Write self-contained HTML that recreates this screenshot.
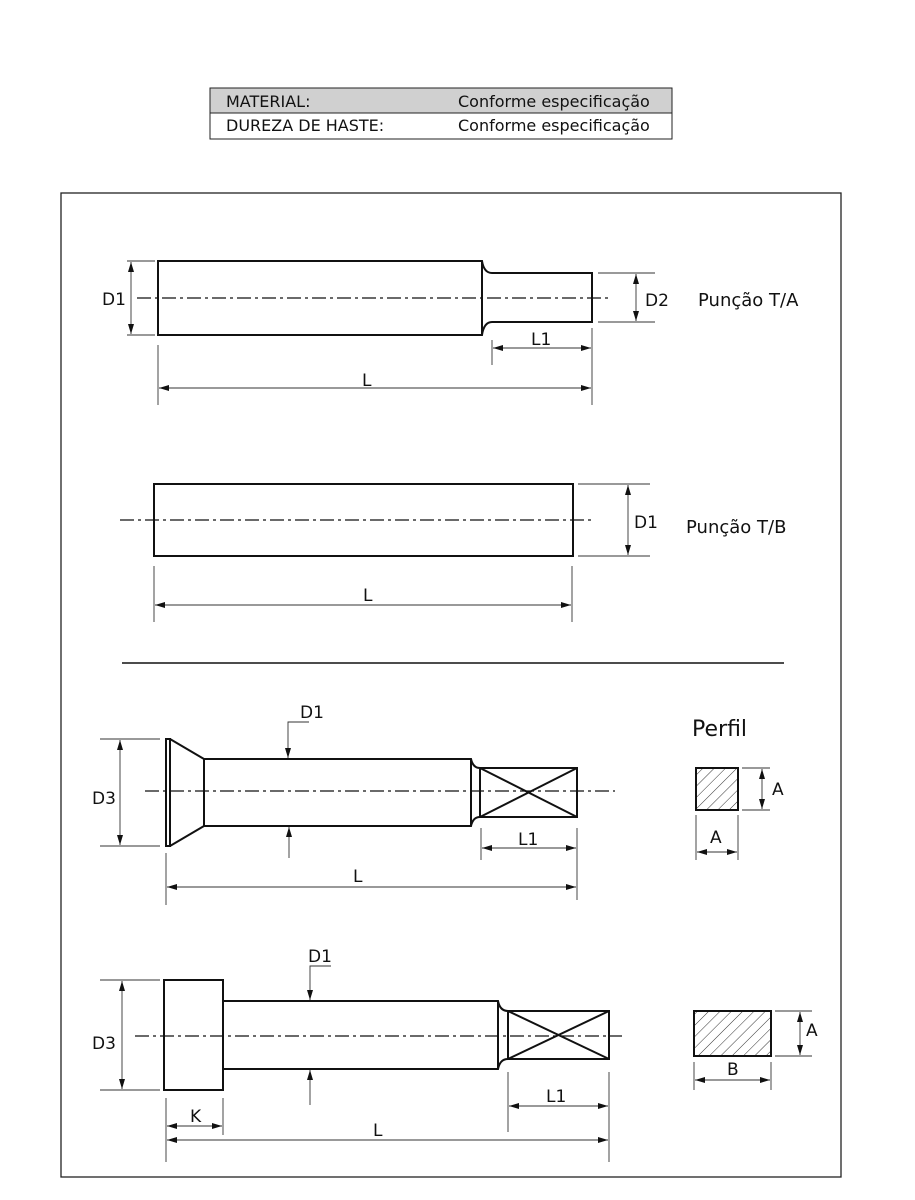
<!DOCTYPE html>
<html><head><meta charset="utf-8"><style>
html,body{margin:0;padding:0;background:#fff}
svg{display:block}
text{font-family:"DejaVu Sans","Liberation Sans",sans-serif;fill:#111}
</style></head><body>
<svg width="915" height="1200" viewBox="0 0 915 1200" xmlns="http://www.w3.org/2000/svg">
<defs>
<marker id="a" viewBox="0 0 10 10" refX="10" refY="5" markerWidth="10" markerHeight="10" orient="auto-start-reverse" markerUnits="userSpaceOnUse"><path d="M0,2 L10,5 L0,8 z" fill="#111"/></marker>
<pattern id="h" width="8" height="8" patternUnits="userSpaceOnUse" patternTransform="rotate(45)"><line x1="0" y1="0" x2="0" y2="8" stroke="#333" stroke-width="1"/></pattern>
</defs>
<rect x="210" y="88" width="462" height="25" fill="#d0d0d0"/>
<rect x="210" y="88" width="462" height="51" fill="none" stroke="#222" stroke-width="1"/>
<line x1="210" y1="113" x2="672" y2="113" stroke="#222"/>
<g font-size="16">
<text x="226" y="107">MATERIAL:</text><text x="458" y="107">Conforme especificação</text>
<text x="226" y="131">DUREZA DE HASTE:</text><text x="458" y="131">Conforme especificação</text>
</g>
<rect x="61" y="193" width="780" height="984" fill="none" stroke="#222" stroke-width="1.3"/>

<g fill="none" stroke="#111">
<path d="M158,261 H482 Q484,273 492,273 H592 V322 H492 Q484,322 482,335 H158 Z M482,261 V335" stroke-width="2"/>
<line x1="137" y1="298" x2="612" y2="298" stroke-width="1.2" stroke-dasharray="14,4,3,4"/>
<g stroke-width="0.9" stroke="#333">
<line x1="127" y1="261" x2="155" y2="261"/><line x1="127" y1="335" x2="155" y2="335"/>
<line x1="131" y1="262" x2="131" y2="334" marker-start="url(#a)" marker-end="url(#a)"/>
<line x1="598" y1="273" x2="655" y2="273"/><line x1="598" y1="322" x2="655" y2="322"/>
<line x1="636" y1="274" x2="636" y2="321" marker-start="url(#a)" marker-end="url(#a)"/>
<line x1="492" y1="340" x2="492" y2="365"/><line x1="592" y1="328" x2="592" y2="405"/>
<line x1="493" y1="348" x2="591" y2="348" marker-start="url(#a)" marker-end="url(#a)"/>
<line x1="158" y1="345" x2="158" y2="405"/>
<line x1="159" y1="388" x2="591" y2="388" marker-start="url(#a)" marker-end="url(#a)"/>
</g>
<rect x="154" y="484" width="419" height="72" stroke-width="2"/>
<line x1="120" y1="520" x2="592" y2="520" stroke-width="1.2" stroke-dasharray="14,4,3,4"/>
<g stroke-width="0.9" stroke="#333">
<line x1="578" y1="484" x2="650" y2="484"/><line x1="578" y1="556" x2="650" y2="556"/>
<line x1="628" y1="485" x2="628" y2="555" marker-start="url(#a)" marker-end="url(#a)"/>
<line x1="154" y1="566" x2="154" y2="622"/><line x1="572" y1="566" x2="572" y2="622"/>
<line x1="155" y1="605" x2="571" y2="605" marker-start="url(#a)" marker-end="url(#a)"/>
</g>
<line x1="122" y1="663" x2="784" y2="663" stroke-width="1.5"/>
<path d="M166,739 H170 V846 H166 Z M170,739 L204,759 M170,846 L204,826" stroke-width="2"/>
<path d="M204,759 H471 Q473,768 480,768 H577 V817 H480 Q473,817 471,826 H204 Z M471,759 V826 M480,768 V817 M480,768 L577,817 M480,817 L577,768" stroke-width="2"/>
<line x1="145" y1="791" x2="615" y2="791" stroke-width="1.2" stroke-dasharray="14,4,3,4"/>
<g stroke-width="0.9" stroke="#333">
<line x1="100" y1="739" x2="160" y2="739"/><line x1="100" y1="846" x2="160" y2="846"/>
<line x1="120" y1="740" x2="120" y2="845" marker-start="url(#a)" marker-end="url(#a)"/>
<polyline points="309,722 288,722 288,758" marker-end="url(#a)"/>
<line x1="289" y1="858" x2="289" y2="827" marker-end="url(#a)"/>
<line x1="481" y1="828" x2="481" y2="860"/><line x1="577" y1="828" x2="577" y2="900"/>
<line x1="482" y1="848" x2="576" y2="848" marker-start="url(#a)" marker-end="url(#a)"/>
<line x1="166" y1="853" x2="166" y2="905"/>
<line x1="167" y1="887" x2="576" y2="887" marker-start="url(#a)" marker-end="url(#a)"/>
<line x1="742" y1="768" x2="770" y2="768"/><line x1="742" y1="810" x2="770" y2="810"/>
<line x1="762" y1="769" x2="762" y2="809" marker-start="url(#a)" marker-end="url(#a)"/>
<line x1="696" y1="815" x2="696" y2="860"/><line x1="738" y1="815" x2="738" y2="860"/>
<line x1="697" y1="852" x2="737" y2="852" marker-start="url(#a)" marker-end="url(#a)"/>
</g>
<rect x="696" y="768" width="42" height="42" fill="url(#h)" stroke-width="2"/>
<rect x="164" y="980" width="59" height="110" stroke-width="2"/>
<path d="M223,1001 H498 Q500,1011 508,1011 H609 V1059 H508 Q500,1059 498,1069 H223 M498,1001 V1069 M508,1011 V1059 M508,1011 L609,1059 M508,1059 L609,1011" stroke-width="2"/>
<line x1="135" y1="1036" x2="622" y2="1036" stroke-width="1.2" stroke-dasharray="14,4,3,4"/>
<g stroke-width="0.9" stroke="#333">
<line x1="100" y1="980" x2="160" y2="980"/><line x1="100" y1="1090" x2="160" y2="1090"/>
<line x1="122" y1="981" x2="122" y2="1089" marker-start="url(#a)" marker-end="url(#a)"/>
<polyline points="331,966 310,966 310,1000" marker-end="url(#a)"/>
<line x1="310" y1="1105" x2="310" y2="1070" marker-end="url(#a)"/>
<line x1="508" y1="1072" x2="508" y2="1132"/><line x1="609" y1="1072" x2="609" y2="1162"/>
<line x1="509" y1="1106" x2="608" y2="1106" marker-start="url(#a)" marker-end="url(#a)"/>
<line x1="223" y1="1098" x2="223" y2="1135"/><line x1="166" y1="1098" x2="166" y2="1162"/>
<line x1="167" y1="1126" x2="222" y2="1126" marker-start="url(#a)" marker-end="url(#a)"/>
<line x1="167" y1="1140" x2="608" y2="1140" marker-start="url(#a)" marker-end="url(#a)"/>
<line x1="775" y1="1011" x2="812" y2="1011"/><line x1="775" y1="1056" x2="812" y2="1056"/>
<line x1="800" y1="1012" x2="800" y2="1055" marker-start="url(#a)" marker-end="url(#a)"/>
<line x1="694" y1="1062" x2="694" y2="1090"/><line x1="771" y1="1062" x2="771" y2="1090"/>
<line x1="695" y1="1080" x2="770" y2="1080" marker-start="url(#a)" marker-end="url(#a)"/>
</g>
<rect x="694" y="1011" width="77" height="45" fill="url(#h)" stroke-width="2"/>
</g>

<g font-size="17">
<text x="102" y="305">D1</text>
<text x="645" y="306">D2</text>
<text x="698" y="306" font-size="18">Punção T/A</text>
<text x="531" y="345">L1</text>
<text x="362" y="386">L</text>
<text x="634" y="528">D1</text>
<text x="686" y="533" font-size="18">Punção T/B</text>
<text x="363" y="601">L</text>
<text x="300" y="718">D1</text>
<text x="92" y="804">D3</text>
<text x="518" y="845">L1</text>
<text x="353" y="882">L</text>
<text x="692" y="736" font-size="22">Perfil</text>
<text x="772" y="795">A</text>
<text x="710" y="843">A</text>
<text x="308" y="962">D1</text>
<text x="92" y="1049">D3</text>
<text x="546" y="1102">L1</text>
<text x="190" y="1122">K</text>
<text x="373" y="1136">L</text>
<text x="806" y="1036">A</text>
<text x="727" y="1075">B</text>
</g>
</svg>
</body></html>
